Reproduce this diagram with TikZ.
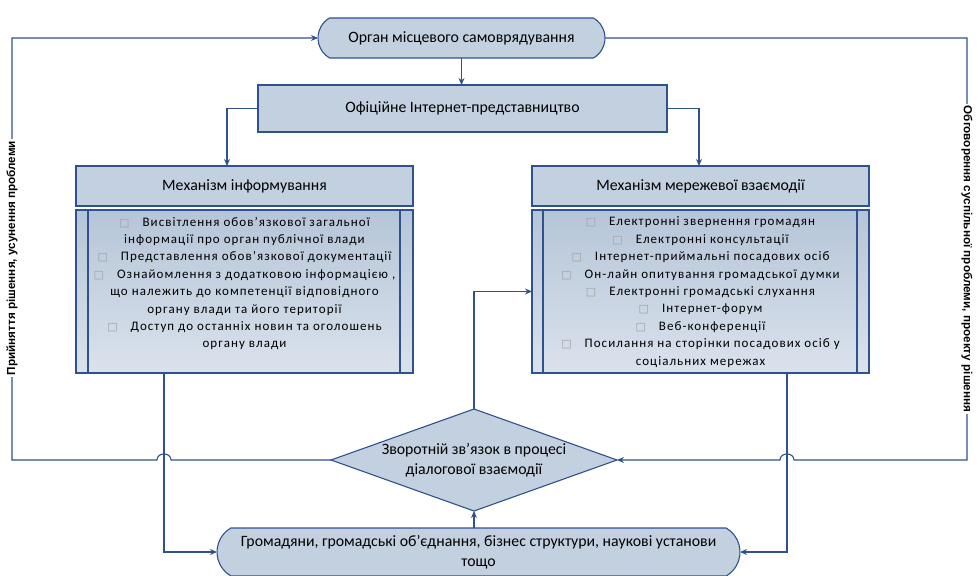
\documentclass[tikz,border=0pt]{standalone}
\usepackage{fontspec}
\setmainfont{Carlito}
\newfontfamily\lblfont{Liberation Sans}
\newfontfamily\symfont{DejaVu Sans}
\newfontfamily\spacedfont[LetterSpace=8]{Carlito}
\usetikzlibrary{shapes.geometric,shapes.misc,arrows.meta,calc}
\definecolor{bord}{HTML}{2F528F}
\definecolor{boxfill}{HTML}{C3D0DF}
\definecolor{ctop}{HTML}{B5C5D8}
\definecolor{cbot}{HTML}{DAE2EC}
\newcommand{\bul}{{\symfont\fontsize{11}{11}\selectfont\textcolor{gray!75}{□}}\hspace{13pt}}
\begin{document}
\begin{tikzpicture}[x=1pt,y=-1pt,
 every node/.style={inner sep=0pt, outer sep=0pt},
 term/.style={rounded rectangle, rounded rectangle arc length=120, draw=bord, line width=1.1pt, fill=boxfill, font=\fontsize{15.8}{20.5}\selectfont, align=center},
 hbox/.style={rectangle, draw=bord, line width=1.1pt, fill=boxfill, font=\fontsize{15.8}{19}\selectfont},
 cbox/.style={rectangle, draw=bord, line width=1.1pt, top color=ctop, bottom color=cbot},
 ctext/.style={align=center, font=\spacedfont\fontsize{13}{17.4}\selectfont, anchor=north},
 decis/.style={diamond, aspect=2.8, draw=bord, line width=1.1pt, fill=boxfill, font=\fontsize{15.8}{20.5}\selectfont, align=center},
 conn/.style={draw=bord, line width=1.1pt},
 arr/.style={conn, -{Stealth[length=7pt,width=6pt]}},
 lbl/.style={fill=white, font=\lblfont\bfseries\fontsize{11.7}{13}\selectfont, inner sep=1.5pt}
]
\useasboundingbox (0,0) rectangle (978,576);

\node[term, minimum width=287, minimum height=40] (top) at (461.5,38) {Орган місцевого самоврядування};
\node[hbox, minimum width=409, minimum height=47] (ofic) at (462.5,108.5) {Офіційне Інтернет-представництво};
\node[hbox, minimum width=337, minimum height=40] (hdrL) at (244.5,186) {Механізм інформування};
\node[hbox, minimum width=337, minimum height=40] (hdrR) at (700.5,186) {Механізм мережевої взаємодії};
\node[cbox, minimum width=337, minimum height=163] (contL) at (244.5,291.5) {};
\node[cbox, minimum width=337, minimum height=163] (contR) at (700.5,291.5) {};
\draw[conn] ([xshift=12pt]contL.north west) -- ([xshift=12pt]contL.south west);
\draw[conn] ([xshift=-13pt]contL.north east) -- ([xshift=-13pt]contL.south east);
\draw[conn] ([xshift=11pt]contR.north west) -- ([xshift=11pt]contR.south west);
\draw[conn] ([xshift=-12pt]contR.north east) -- ([xshift=-12pt]contR.south east);

\node[ctext] (txtL) at ([yshift=-7pt]contL.north) {\bul Висвітлення обов’язкової загальної\\
інформації про орган публічної влади\\
\bul Представлення обов’язкової документації\\
\bul Ознайомлення з додатковою інформацією ,\\
що належить до компетенції відповідного\\
органу влади та його території\\
\bul Доступ до останніх новин та оголошень\\
органу влади};
\node[ctext] (txtR) at ([yshift=-7pt]contR.north) {\bul Електронні звернення громадян\\
\bul Електронні консультації\\
\bul Інтернет-приймальні посадових осіб\\
\bul Он-лайн опитування громадської думки\\
\bul Електронні громадські слухання\\
\bul Інтернет-форум\\
\bul Веб-конференції\\
\bul Посилання на сторінки посадових осіб у\\
соціальних мережах};

\node[decis, minimum width=286, minimum height=102] (dia) at (474,460) {Зворотній зв'язок в процесі\\діалогової взаємодії};
\node[term, minimum width=523, minimum height=48] (bot) at (478.5,552) {Громадяни, громадські об’єднання, бізнес структури, наукові установи\\тощо};

\draw[arr] (top.south) -- (top.south |- ofic.north);
\draw[arr] (ofic.west) -| ([xshift=-17.5pt]hdrL.north);
\draw[arr] (ofic.east) -| ([xshift=-1.5pt]hdrR.north);
\draw[arr] ([xshift=-80.5pt]contL.south) |- (bot.west);
\draw[arr] ([xshift=86.5pt]contR.south) |- (bot.east);
\draw[arr] (dia.north) |- (contR.west);
\draw[arr] (dia.south |- bot.north) -- (dia.south);

\coordinate (cLB) at (12,460);
\coordinate (cLT) at (12,38);
\coordinate (cRT) at (967,38);
\coordinate (cRB) at (967,460);
\draw[arr] (dia.west) -- (171,460) .. controls (171,452) and (157,452) .. (157,460) -- (cLB) -- (cLT) -- (top.west);
\draw[arr] (top.east) -- (cRT) -- (cRB) -- (794,460) .. controls (794,452) and (780,452) .. (780,460) -- (dia.east);

\node[lbl, rotate=90] (lblL) at (12,258) {Прийняття рішення, усунення проблеми};
\node[lbl, rotate=-90] (lblR) at (967,259) {Обговорення суспільної проблеми, проекту рішення};
\end{tikzpicture}
\end{document}
